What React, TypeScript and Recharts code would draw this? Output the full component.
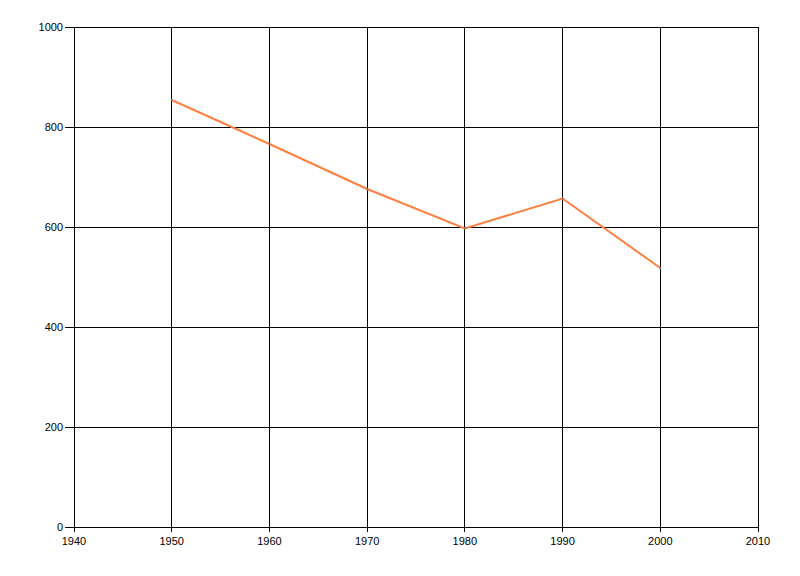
import React from "react";
import { LineChart, Line, XAxis, YAxis, CartesianGrid } from "recharts";

const years = [1950, 1960, 1970, 1980, 1990, 2000];
const values = [854, 766, 676, 597, 657, 518];
const xTicks = [1940, 1950, 1960, 1970, 1980, 1990, 2000, 2010];
const yTicks = [0, 200, 400, 600, 800, 1000];

const data = years.map((y, i) => ({ year: y, value: values[i] }));

const font = { fontFamily: "'Liberation Sans', Arial, sans-serif", fontSize: 11, fill: "#000" };

export default function App() {
  return (
    <div style={{ position: "absolute", left: 0, top: 0, width: 800, height: 576, background: "#fff" }}>
      <style>{`.recharts-cartesian-grid line, .recharts-cartesian-axis-line, .recharts-cartesian-axis-tick-line { shape-rendering: crispEdges; }`}</style>
      <LineChart width={800} height={576} data={data} margin={{ top: 27, right: 42, bottom: 19, left: 0 }}>
        <CartesianGrid stroke="#000" strokeWidth={1} />
        <XAxis
          dataKey="year"
          type="number"
          domain={[1940, 2010]}
          ticks={xTicks}
          interval={0}
          height={30}
          tickSize={5}
          tickMargin={5}
          stroke="#000"
          tick={font}
          axisLine={{ stroke: "#000" }}
          tickLine={{ stroke: "#000" }}
        />
        <YAxis
          type="number"
          domain={[0, 1000]}
          ticks={yTicks}
          interval={0}
          width={74}
          tickSize={9}
          tickMargin={2}
          stroke="#000"
          tick={font}
          axisLine={{ stroke: "#000" }}
          tickLine={{ stroke: "#000" }}
        />
        <Line
          dataKey="value"
          stroke="#FF7F3F"
          strokeWidth={2}
          dot={{ r: 1, fill: "#777", stroke: "none" }}
          isAnimationActive={false}
        />
      </LineChart>
    </div>
  );
}
